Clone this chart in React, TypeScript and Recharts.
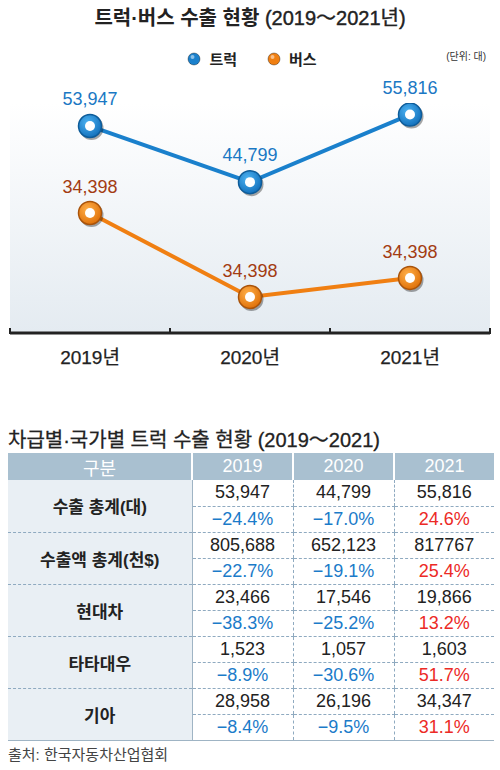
import { LineChart, Line, XAxis, YAxis, CartesianGrid, Legend, LabelList } from 'recharts';

// 연도 (x축)
const years = ['2019년', '2020년', '2021년'];
// 트럭 수출 대수
const truckExports = [53947, 44799, 55816];
// 버스: 그림 속 점 위치로 읽은 값 (라벨은 원본 그대로 34,398)
const busPlotted = [39770, 26080, 29180];
const busLabels = ['34,398', '34,398', '34,398'];
const seriesNames = ['트럭', '버스'];

// 아래 표
const tableYears = ['2019', '2020', '2021'];
const tableRowNames = ['수출 총계(대)', '수출액 총계(천$)', '현대차', '타타대우', '기아'];
const tableValues = [
  ['53,947', '44,799', '55,816'],
  ['805,688', '652,123', '817767'],
  ['23,466', '17,546', '19,866'],
  ['1,523', '1,057', '1,603'],
  ['28,958', '26,196', '34,347'],
];
const tableChanges = [
  [-24.4, -17.0, 24.6],
  [-22.7, -19.1, 25.4],
  [-38.3, -25.2, 13.2],
  [-8.9, -30.6, 51.7],
  [-8.4, -9.5, 31.1],
];

const chartData = years.map((year, i) => ({
  year,
  truck: truckExports[i],
  truckLabel: truckExports[i].toLocaleString('en-US'),
  bus: busPlotted[i],
  busLabel: busLabels[i],
}));

const FONT = "'Liberation Sans', 'Noto Sans CJK KR', sans-serif";
const TRUCK = '#1a80cc';
const BUS = '#f07f12';
const HALF_BAND = 80;

const fmtChange = (v: number) => `${v < 0 ? '−' : ''}${Math.abs(v).toFixed(1)}%`;

// 3D 느낌의 마커
const makeDot = (grad: string, edge: string) => (props: any) => {
  const { cx, cy, index } = props;
  if (cx == null || cy == null) return null;
  return (
    <g key={`dot-${grad}-${index}`}>
      <circle cx={cx + 1.5} cy={cy + 2} r={12} fill="rgba(0,0,0,0.35)" />
      <circle cx={cx} cy={cy} r={11.5} fill={`url(#${grad})`} stroke={edge} strokeWidth={1.5} />
      <circle cx={cx} cy={cy} r={5} fill="#fff" />
    </g>
  );
};

const YearTick = (props: any) => {
  const { x, y, index, payload } = props;
  return (
    <g>
      <line x1={x - HALF_BAND} x2={x - HALF_BAND} y1={y - 5} y2={y + 1} stroke="#222" strokeWidth={2} />
      {index === years.length - 1 && (
        <line x1={x + HALF_BAND} x2={x + HALF_BAND} y1={y - 5} y2={y + 1} stroke="#222" strokeWidth={2} />
      )}
      <text
        x={x}
        y={y + 31}
        textAnchor="middle"
        fontSize={19}
        fill="#222"
        stroke="#222"
        strokeWidth={0.25}
        fontFamily={FONT}
      >
        {payload.value}
      </text>
    </g>
  );
};

const renderLegend = (props: any) => {
  const payload = [...props.payload].sort(
    (a: any, b: any) => seriesNames.indexOf(a.value) - seriesNames.indexOf(b.value)
  );
  return (
    <div style={{ display: 'flex', justifyContent: 'center', alignItems: 'center', gap: 30, paddingLeft: 4 }}>
      {payload.map((entry: any) => (
        <div key={entry.value} style={{ display: 'flex', alignItems: 'center' }}>
          <svg width={14} height={14}>
            <circle cx={7} cy={7} r={6} fill={entry.color} stroke="rgba(0,0,0,0.35)" strokeWidth={1} />
            <circle cx={5.5} cy={5} r={2} fill="rgba(255,255,255,0.5)" />
          </svg>
          <span style={{ marginLeft: 8, fontSize: 15, fontWeight: 700, color: '#222', fontFamily: FONT }}>
            {entry.value}
          </span>
        </div>
      ))}
    </div>
  );
};

const cellBorder = '1px dashed #8faac0';

const App = () => {
  return (
    <div style={{ position: 'absolute', left: 0, top: 0, width: 500, height: 770, background: '#fff', fontFamily: FONT }}>
      <div style={{ position: 'absolute', top: 2, left: 0, width: 500, textAlign: 'center', fontSize: 20, color: '#222' }}>
        <span style={{ fontWeight: 700 }}>트럭·버스 수출 현황 </span>
        <span style={{ WebkitTextStroke: '0.4px #222' }}>(2019～2021년)</span>
      </div>
      <div style={{ position: 'absolute', top: 48, right: 14, fontSize: 10, color: '#333' }}>(단위: 대)</div>

      <LineChart width={500} height={380} data={chartData} margin={{ top: 103, right: 10, bottom: 7, left: 10 }}>
        <defs>
          <linearGradient id="plotBg" x1="0" y1="0" x2="0" y2="1">
            <stop offset="0%" stopColor="#ffffff" />
            <stop offset="100%" stopColor="#e4ebf1" />
          </linearGradient>
          <radialGradient id="truckDot" cx="40%" cy="35%" r="65%">
            <stop offset="0%" stopColor="#4db3f2" />
            <stop offset="100%" stopColor="#1472bd" />
          </radialGradient>
          <radialGradient id="busDot" cx="40%" cy="35%" r="65%">
            <stop offset="0%" stopColor="#ffb04a" />
            <stop offset="100%" stopColor="#e0720a" />
          </radialGradient>
        </defs>
        <CartesianGrid horizontal={false} vertical={false} fill="url(#plotBg)" />
        <XAxis
          dataKey="year"
          padding={{ left: HALF_BAND, right: HALF_BAND }}
          axisLine={{ stroke: '#222', strokeWidth: 3 }}
          tickLine={false}
          tickSize={0}
          tickMargin={0}
          height={40}
          tick={YearTick}
          interval={0}
        />
        <YAxis hide type="number" domain={[20200, 57700]} allowDataOverflow />
        <Legend
          verticalAlign="middle"
          align="center"
          layout="horizontal"
          content={renderLegend}
          wrapperStyle={{ top: 48, left: 0, width: 500, height: 20 }}
        />
        <Line
          dataKey="truck"
          name="트럭"
          stroke={TRUCK}
          strokeWidth={4}
          dot={makeDot('truckDot', '#0e5c99')}
          activeDot={false}
          isAnimationActive={false}
        >
          <LabelList dataKey="truckLabel" position="top" offset={21} fill="#1a78c4" fontSize={18} fontFamily={FONT} />
        </Line>
        <Line
          dataKey="bus"
          name="버스"
          stroke={BUS}
          strokeWidth={4}
          dot={makeDot('busDot', '#a9530a')}
          activeDot={false}
          isAnimationActive={false}
        >
          <LabelList dataKey="busLabel" position="top" offset={20} fill="#a33c12" fontSize={18} fontFamily={FONT} />
        </Line>
      </LineChart>

      <div style={{ position: 'absolute', top: 424, left: 8, fontSize: 20, color: '#222', WebkitTextStroke: '0.3px #222' }}>
        차급별·국가별 트럭 수출 현황 (2019～2021)
      </div>

      <table
        style={{
          position: 'absolute',
          top: 453,
          left: 8,
          width: 486,
          borderCollapse: 'collapse',
          tableLayout: 'fixed',
          fontSize: 18,
          color: '#222',
        }}
      >
        <colgroup>
          <col style={{ width: 184 }} />
          <col style={{ width: 101 }} />
          <col style={{ width: 101 }} />
          <col style={{ width: 100 }} />
        </colgroup>
        <thead>
          <tr style={{ height: 27 }}>
            {['구분', ...tableYears].map((h, i) => (
              <th
                key={h}
                style={{
                  background: '#a9c0d0',
                  color: '#fff',
                  fontWeight: 400,
                  padding: 0,
                  borderLeft: i > 0 ? '2px solid #fff' : 'none',
                }}
              >
                {h}
              </th>
            ))}
          </tr>
        </thead>
        <tbody>
          {tableRowNames.map((name, r) => {
            const last = r === tableRowNames.length - 1;
            const bottom = last ? '1px solid #9fb4c4' : cellBorder;
            return [
              <tr key={`${name}-v`} style={{ height: 26 }}>
                <td
                  rowSpan={2}
                  style={{
                    background: '#e9eff4',
                    textAlign: 'center',
                    fontWeight: 700,
                    fontSize: 17,
                    padding: 0,
                    borderRight: '1px solid #9fb4c4',
                    borderBottom: bottom,
                  }}
                >
                  {name}
                </td>
                {tableValues[r].map((v, c) => (
                  <td
                    key={c}
                    style={{
                      textAlign: 'center',
                      padding: 0,
                      borderBottom: cellBorder,
                      borderLeft: c > 0 ? cellBorder : undefined,
                    }}
                  >
                    {v}
                  </td>
                ))}
              </tr>,
              <tr key={`${name}-p`} style={{ height: 26 }}>
                {tableChanges[r].map((v, c) => (
                  <td
                    key={c}
                    style={{
                      textAlign: 'center',
                      padding: 0,
                      color: v < 0 ? '#1b7bc9' : '#ec2a26',
                      borderBottom: bottom,
                      borderLeft: c > 0 ? cellBorder : undefined,
                    }}
                  >
                    {fmtChange(v)}
                  </td>
                ))}
              </tr>,
            ];
          })}
        </tbody>
      </table>

      <div style={{ position: 'absolute', top: 743, left: 8, fontSize: 15, color: '#444' }}>출처: 한국자동차산업협회</div>
    </div>
  );
};

export default App;
